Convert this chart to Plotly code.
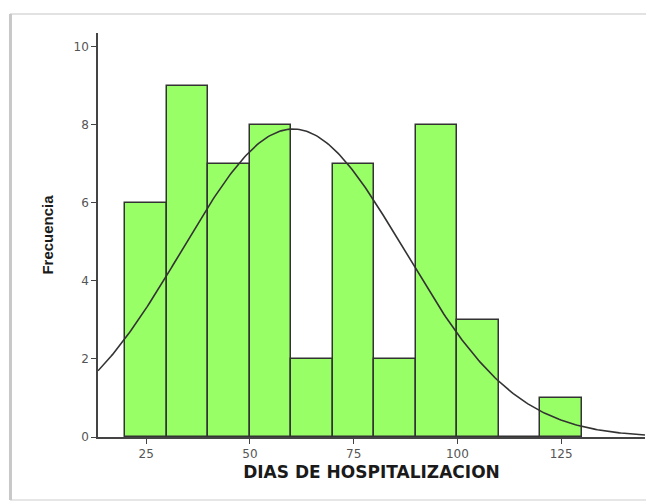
import numpy as np
import plotly.graph_objects as go

# histogram bins (days of hospitalization), width 10
bin_centers = [25, 35, 45, 55, 65, 75, 85, 95, 105, 115, 125]
frequencies = [6, 9, 7, 8, 2, 7, 2, 8, 3, 0, 1]
bin_width = 10

# normal curve parameters
curve_mean = 60.4
curve_sd = 26.8
x_range = [13.4, 145.2]
y_ticks = [0, 2, 4, 6, 8, 10]
x_ticks = [25, 50, 75, 100, 125]

n_total = sum(frequencies)
xs = np.linspace(x_range[0], x_range[1], 300)
ys = n_total * bin_width * np.exp(-0.5 * ((xs - curve_mean) / curve_sd) ** 2) / (curve_sd * np.sqrt(2 * np.pi))

fig = go.Figure()

fig.add_trace(go.Bar(
    x=bin_centers, y=frequencies, width=bin_width,
    marker=dict(color="#99FF66", line=dict(color="#333333", width=1.5)),
    showlegend=False, hoverinfo="x+y"
))

fig.add_trace(go.Scatter(
    x=xs, y=ys, mode="lines",
    line=dict(color="#333333", width=1.6),
    showlegend=False, hoverinfo="skip"
))

# page body has an 8px margin, so the figure is sized 8px smaller
fig.update_layout(
    width=646, height=494,
    margin=dict(l=90, r=9, t=25, b=65),
    paper_bgcolor="white", plot_bgcolor="white",
    font=dict(family="DejaVu Sans", color="#555555", size=12),
    bargap=0,
    xaxis=dict(
        range=x_range, tickvals=x_ticks, showgrid=False, zeroline=False,
        showline=True, linecolor="#444444", linewidth=1.5,
        ticks="outside", ticklen=5, tickcolor="#444444",
        title=dict(text="<b>DIAS DE HOSPITALIZACION</b>",
                   font=dict(size=17, color="#1a1a1a", family="DejaVu Sans"),
                   standoff=6),
    ),
    yaxis=dict(
        range=[0, 10.35], tickvals=y_ticks, showgrid=False, zeroline=False,
        showline=True, linecolor="#444444", linewidth=1.5,
        ticks="outside", ticklen=5, tickcolor="#444444",
        title=dict(text="<b>Frecuencia</b>",
                   font=dict(size=15, color="#1a1a1a", family="Liberation Sans Narrow, Liberation Sans"),
                   standoff=16),
    ),
    shapes=[
        # card frame around the picture
        dict(type="line", xref="paper", yref="paper", x0=-0.161, x1=1.1, y0=1.047, y1=1.047,
             line=dict(color="#e2e2e2", width=2), layer="below"),
        dict(type="line", xref="paper", yref="paper", x0=-0.161, x1=1.1, y0=-0.156, y1=-0.156,
             line=dict(color="#e6e6e6", width=2), layer="below"),
        dict(type="line", xref="paper", yref="paper", x0=-0.160, x1=-0.160, y0=-0.156, y1=1.047,
             line=dict(color="#c8c8c8", width=3), layer="below"),
    ],
)

fig.write_html("out.html")
